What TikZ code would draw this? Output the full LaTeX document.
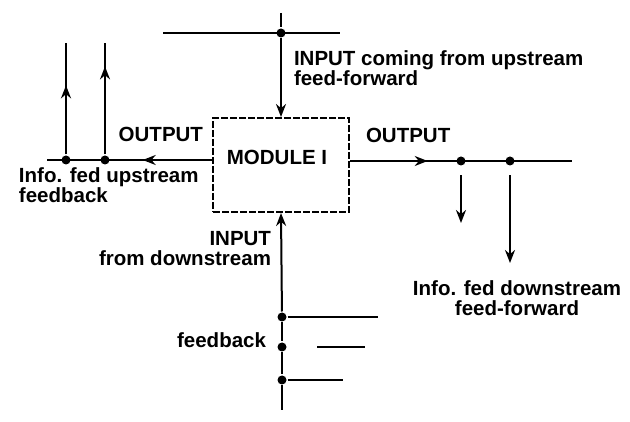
\documentclass[tikz,border=0pt]{standalone}
\usepackage{fontspec}
\setmainfont{Liberation Sans}
\usetikzlibrary{arrows.meta,decorations.markings,positioning}

\tikzset{
  lbl/.style={font=\bfseries\fontsize{20.5}{20}\selectfont, inner sep=0pt},
  dot/.style={circle, fill, inner sep=0pt, minimum size=9pt},
  modbox/.style={draw, dash pattern=on 7pt off 2pt, minimum width=136pt, minimum height=94pt},
  midarrow/.style={postaction={decorate}, decoration={markings,
      mark=at position #1 with {\arrow{Stealth[length=13pt,width=10pt]}}}},
}

\begin{document}
\begin{tikzpicture}[x=1pt, y=-1pt, line width=2pt, >={Stealth[length=13pt,width=10pt]}]
  \useasboundingbox (0,0) rectangle (630,422);

  % the module
  \node[modbox] (mod) at (281,165) {};
  \node[lbl, anchor=base] (modlbl) at (277,165) {MODULE I};

  % input from upstream
  \coordinate (topend) at (281,13);
  \node[dot] (upin) at (281,33) {};
  \coordinate (upl) at (163,33);
  \coordinate (upr) at (340,33);
  \draw (upl) -- (upr);
  \draw (topend) -- (upin);
  \draw[->] (upin) -- (mod.north);
  \node[lbl, anchor=base west, align=left] (uplbl) at (293,86)
    {INPUT coming from upstream\\feed-forward};

  % output upstream (feedback)
  \node[dot] (fb1) at (66,160) {};
  \node[dot] (fb2) at (105,160) {};
  \coordinate (fbend) at (47,160);
  \coordinate (fb1top) at (66,43);
  \coordinate (fb2top) at (105,43);
  \draw[midarrow=0.42] (mod.west |- fb1) -- (fbend);
  \draw[midarrow=0.62] (fb1) -- (fb1top);
  \draw[midarrow=0.79] (fb2) -- (fb2top);
  \node[lbl, anchor=base east] (outl) at (204,142) {OUTPUT};
  \node[lbl, anchor=base west, align=left] (fblbl) at (18,203)
    {Info. fed upstream\\feedback};

  % output downstream (feed-forward)
  \node[dot] (ff1) at (461,161) {};
  \node[dot] (ff2) at (510,161) {};
  \coordinate (ffend) at (572,161);
  \draw[midarrow=0.35] (mod.east |- ff1) -- (ffend);
  \draw[->] ([yshift=-9pt]ff1.south) -- (461,223);
  \draw[->] ([yshift=-9pt]ff2.south) -- (510,263);
  \node[lbl, anchor=base west] (outr) at (365,143) {OUTPUT};
  \node[lbl, anchor=base, align=center] (fflbl) at (517,316)
    {Info. fed downstream\\feed-forward};

  % input from downstream
  \node[dot] (dn1) at (282,317) {};
  \node[dot] (dn2) at (282,347) {};
  \node[dot] (dn3) at (282,380) {};
  \coordinate (dnend) at (282,410);
  \draw[->] (dn1) -- (mod.south);
  \draw (dn1) -- (dn2) -- (dn3) -- (dnend);
  \draw (dn1) -- (378,317);
  \draw (317,347) -- (365,347);
  \draw (dn3) -- (343,380);
  \node[lbl, anchor=base east, align=right] (dnlbl) at (272,266)
    {INPUT\\from downstream};
  \node[lbl, anchor=base east] (fbk) at (267,348) {feedback};
\end{tikzpicture}
\end{document}
